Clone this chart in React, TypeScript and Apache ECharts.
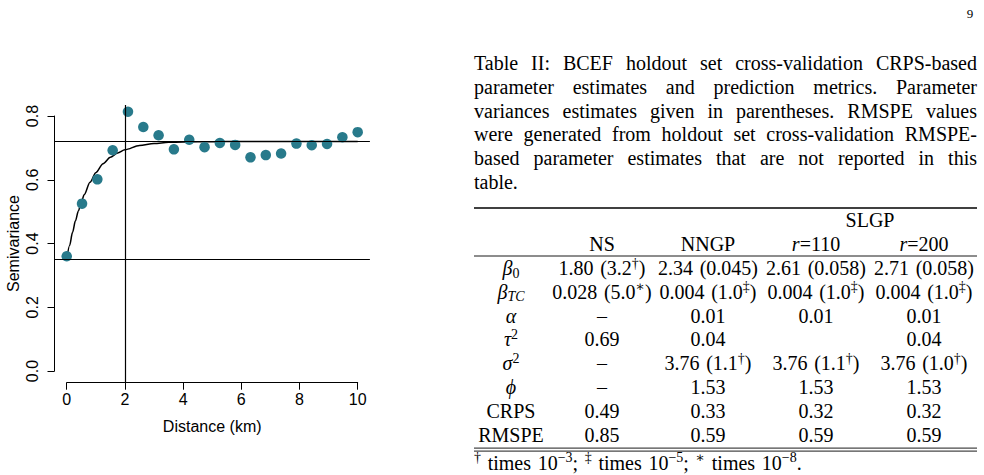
import React, { useEffect, useRef } from "react";
import * as echarts from "echarts";

// ---------------- data: empirical semivariogram ----------------
const distanceKm = [0, 0.526, 1.053, 1.579, 2.105, 2.632, 3.158, 3.684, 4.211, 4.737, 5.263, 5.789, 6.316, 6.842, 7.368, 7.895, 8.421, 8.947, 9.474, 10];
const semivariance = [0.36, 0.525, 0.601, 0.692, 0.813, 0.765, 0.739, 0.695, 0.725, 0.702, 0.715, 0.709, 0.67, 0.677, 0.682, 0.713, 0.708, 0.712, 0.733, 0.749];
// fitted curve
const fitDistanceKm = [0, 0.1, 0.2, 0.3, 0.4, 0.5, 0.6, 0.8, 1.0, 1.25, 1.5, 1.75, 2.0, 2.5, 3.0, 3.5, 4, 5, 6, 8, 10];
const fitSemivariance = [0.348, 0.394, 0.435, 0.471, 0.502, 0.529, 0.553, 0.592, 0.622, 0.65, 0.67, 0.684, 0.694, 0.707, 0.713, 0.717, 0.718, 0.719, 0.72, 0.72, 0.72];
const sillLevel = 0.72;
const nuggetLevel = 0.348;
const rangeMarkKm = 2;
const xAxisTitle = "Distance (km)";
const yAxisTitle = "Semivariance";

// ---------------- data: page text and table ----------------
const pageNumber = "9";
const captionLines = [
  "Table II: BCEF holdout set cross-validation CRPS-based",
  "parameter estimates and prediction metrics. Parameter",
  "variances estimates given in parentheses. RMSPE values",
  "were generated from holdout set cross-validation RMSPE-",
  "based parameter estimates that are not reported in this",
  "table.",
];
const groupHeader = "SLGP";
const columnHeaders = ["NS", "NNGP", "r=110", "r=200"];
const rowLabels = ["β_0", "β_{TC}", "α", "τ^2", "σ^2", "ϕ", "CRPS", "RMSPE"];
const colNS = ["1.80 (3.2^†)", "0.028 (5.0^∗)", "–", "0.69", "–", "–", "0.49", "0.85"];
const colNNGP = ["2.34 (0.045)", "0.004 (1.0^‡)", "0.01", "0.04", "3.76 (1.1^†)", "1.53", "0.33", "0.59"];
const colR110 = ["2.61 (0.058)", "0.004 (1.0^‡)", "0.01", "", "3.76 (1.1^†)", "1.53", "0.32", "0.59"];
const colR200 = ["2.71 (0.058)", "0.004 (1.0^‡)", "0.01", "0.04", "3.76 (1.0^†)", "1.53", "0.32", "0.59"];
const footnote = "^† times 10^{−3}; ^‡ times 10^{−5}; ^∗ times 10^{−8}.";

// ---------------- layout ----------------
const SERIF = '"Liberation Serif", "DejaVu Serif", serif';
const SANS = '"Liberation Sans", Arial, Helvetica, sans-serif';
const FS = 20;
const TEXT_LEFT = 474;
const TEXT_RIGHT = 977;
const CAP_Y0 = 63;
const LINE_STEP = 23.8;
const RULE_TOP = 208;
const GROUP_Y = 220;
const HEAD_Y = 244;
const RULE_MID = 256;
const ROW_Y0 = 268;
const COL_X = [511, 602, 708, 816, 924];
const GROUP_X = 870;
const WIDE_SPACE = "\u2004";

let measureCtx: CanvasRenderingContext2D | null = null;
function textWidth(t: string, font: string): number {
  if (!measureCtx) measureCtx = document.createElement("canvas").getContext("2d");
  if (!measureCtx) return t.length * 9;
  measureCtx.font = font;
  return measureCtx.measureText(t).width;
}

type Seg = { t: string; k: string };
function parseMarkup(s: string): Seg[] {
  const segs: Seg[] = [];
  let buf = "";
  const flush = () => {
    if (buf) segs.push({ t: buf, k: "n" });
    buf = "";
  };
  let i = 0;
  while (i < s.length) {
    const c = s[i];
    if (c === "^" || c === "_") {
      flush();
      let grp: string;
      if (s[i + 1] === "{") {
        const j = s.indexOf("}", i + 2);
        grp = s.slice(i + 2, j);
        i = j + 1;
      } else {
        grp = s[i + 1];
        i += 2;
      }
      const kind = c === "^" ? "sup" : "sub";
      segs.push({ t: grp, k: /[A-Za-z]/.test(grp) ? kind + "i" : kind });
      continue;
    }
    if (/[\u0370-\u03FF]/.test(c) || (c === "r" && s[i + 1] === "=")) {
      flush();
      segs.push({ t: c, k: "i" });
      i++;
      continue;
    }
    buf += c === " " ? WIDE_SPACE : c;
    i++;
  }
  flush();
  return segs;
}

const richStyles = {
  n: { fontFamily: SERIF, fontSize: FS, lineHeight: 24, fill: "#000", verticalAlign: "middle" },
  i: { fontFamily: SERIF, fontSize: FS, fontStyle: "italic", lineHeight: 24, fill: "#000", verticalAlign: "middle" },
  sup: { fontFamily: SERIF, fontSize: 14, lineHeight: 14, fill: "#000", verticalAlign: "top" },
  supi: { fontFamily: SERIF, fontSize: 14, fontStyle: "italic", lineHeight: 14, fill: "#000", verticalAlign: "top" },
  sub: { fontFamily: SERIF, fontSize: 14, lineHeight: 13, fill: "#000", verticalAlign: "bottom" },
  subi: { fontFamily: SERIF, fontSize: 14, fontStyle: "italic", lineHeight: 13, fill: "#000", verticalAlign: "bottom" },
};

function richText(s: string): string {
  return parseMarkup(s)
    .map((g) => `{${g.k}|${g.t}}`)
    .join("");
}

function cellEl(s: string, x: number, y: number, align: string = "center") {
  return {
    type: "text",
    x,
    y,
    silent: true,
    style: {
      text: richText(s),
      align,
      verticalAlign: "middle",
      fontFamily: SERIF,
      fontSize: FS,
      fill: "#000",
      rich: richStyles,
    },
  };
}

function lineEl(x1: number, y1: number, x2: number, y2: number, w: number) {
  return {
    type: "line",
    silent: true,
    shape: { x1, y1, x2, y2 },
    style: { stroke: "#000", lineWidth: w },
  };
}

function buildGraphics() {
  const els: any[] = [];
  // page number
  els.push({
    type: "text",
    x: 970,
    y: 13,
    silent: true,
    style: { text: pageNumber, align: "center", verticalAlign: "middle", fontFamily: SERIF, fontSize: 13, fill: "#000" },
  });
  // caption (justified)
  const font = `${FS}px ${SERIF}`;
  captionLines.forEach((line, li) => {
    const words = line.split(" ");
    const y = CAP_Y0 + li * LINE_STEP;
    const widths = words.map((w) => textWidth(w, font));
    const total = widths.reduce((a, b) => a + b, 0);
    const justify = li < captionLines.length - 1 && words.length > 1;
    const gap = justify ? (TEXT_RIGHT - TEXT_LEFT - total) / (words.length - 1) : textWidth(" ", font);
    let x = TEXT_LEFT;
    words.forEach((w, wi) => {
      els.push({
        type: "text",
        x,
        y,
        silent: true,
        style: { text: w, align: "left", verticalAlign: "middle", fontFamily: SERIF, fontSize: FS, fill: "#000" },
      });
      x += widths[wi] + gap;
    });
  });
  // table
  els.push(lineEl(TEXT_LEFT, RULE_TOP, TEXT_RIGHT, RULE_TOP, 1.3));
  els.push(cellEl(groupHeader, GROUP_X, GROUP_Y));
  columnHeaders.forEach((h, ci) => els.push(cellEl(h, COL_X[ci + 1], HEAD_Y)));
  els.push(lineEl(TEXT_LEFT, RULE_MID, TEXT_RIGHT, RULE_MID, 0.9));
  const cols = [rowLabels, colNS, colNNGP, colR110, colR200];
  cols.forEach((col, ci) => {
    col.forEach((v, ri) => {
      if (v) els.push(cellEl(v, COL_X[ci], ROW_Y0 + ri * LINE_STEP));
    });
  });
  const lastY = ROW_Y0 + (rowLabels.length - 1) * LINE_STEP;
  els.push(lineEl(TEXT_LEFT, lastY + 13.5, TEXT_RIGHT, lastY + 13.5, 0.9));
  els.push(lineEl(TEXT_LEFT, lastY + 16.5, TEXT_RIGHT, lastY + 16.5, 0.9));
  els.push(cellEl(footnote, TEXT_LEFT, lastY + 28, "left"));
  return els;
}

function buildOption(): any {
  const axisText = { color: "#000", fontSize: 16, fontFamily: SANS };
  return {
    animation: false,
    backgroundColor: "#fff",
    grid: [
      { left: 54.5, top: 105, width: 315.4, height: 277.7 },
      { left: 66.7, top: 116, width: 291, height: 255 },
    ],
    xAxis: [
      { gridIndex: 0, type: "value", min: -0.42, max: 10.42, show: false },
      {
        gridIndex: 1,
        type: "value",
        min: 0,
        max: 10,
        interval: 2,
        position: "bottom",
        offset: 11.7,
        axisLine: { show: true, onZero: false, lineStyle: { color: "#000", width: 1 } },
        axisTick: { show: true, length: 7, lineStyle: { color: "#000", width: 1 } },
        axisLabel: { show: true, margin: 9, ...axisText },
        splitLine: { show: false },
        name: xAxisTitle,
        nameLocation: "middle",
        nameGap: 36,
        nameTextStyle: axisText,
      },
    ],
    yAxis: [
      { gridIndex: 0, type: "value", min: -0.036, max: 0.834, show: false },
      {
        gridIndex: 1,
        type: "value",
        min: 0,
        max: 0.8,
        interval: 0.2,
        position: "left",
        offset: 12.2,
        axisLine: { show: true, onZero: false, lineStyle: { color: "#000", width: 1 } },
        axisTick: { show: true, length: 7, lineStyle: { color: "#000", width: 1 } },
        axisLabel: { show: true, rotate: 90, margin: 14, formatter: (v: number) => v.toFixed(1), ...axisText },
        splitLine: { show: false },
        name: yAxisTitle,
        nameLocation: "middle",
        nameGap: 33,
        nameTextStyle: axisText,
      },
    ],
    series: [
      {
        type: "line",
        xAxisIndex: 0,
        yAxisIndex: 0,
        data: fitDistanceKm.map((d, i) => [d, fitSemivariance[i]]),
        showSymbol: false,
        smooth: 0.3,
        smoothMonotone: "x",
        lineStyle: { color: "#000", width: 1.5 },
        silent: true,
        z: 2,
        markLine: {
          silent: true,
          symbol: ["none", "none"],
          label: { show: false },
          lineStyle: { color: "#000", width: 1.2, type: "solid" },
          data: [{ yAxis: sillLevel }, { yAxis: nuggetLevel }, { xAxis: rangeMarkKm }],
        },
      },
      {
        type: "scatter",
        xAxisIndex: 0,
        yAxisIndex: 0,
        data: distanceKm.map((d, i) => [d, semivariance[i]]),
        symbol: "circle",
        symbolSize: 10.5,
        itemStyle: { color: "#287A8B", opacity: 1 },
        silent: true,
        z: 3,
      },
      { type: "scatter", xAxisIndex: 1, yAxisIndex: 1, data: [], silent: true },
    ],
    graphic: { elements: buildGraphics() },
  };
}

export default function App() {
  const ref = useRef<HTMLDivElement>(null);
  useEffect(() => {
    if (!ref.current) return;
    const chart = echarts.init(ref.current, null, { renderer: "svg" });
    chart.setOption(buildOption());
    return () => chart.dispose();
  }, []);
  return (
    <div
      ref={ref}
      style={{ position: "fixed", left: 0, top: 0, width: 984, height: 475, background: "#fff" }}
    />
  );
}
